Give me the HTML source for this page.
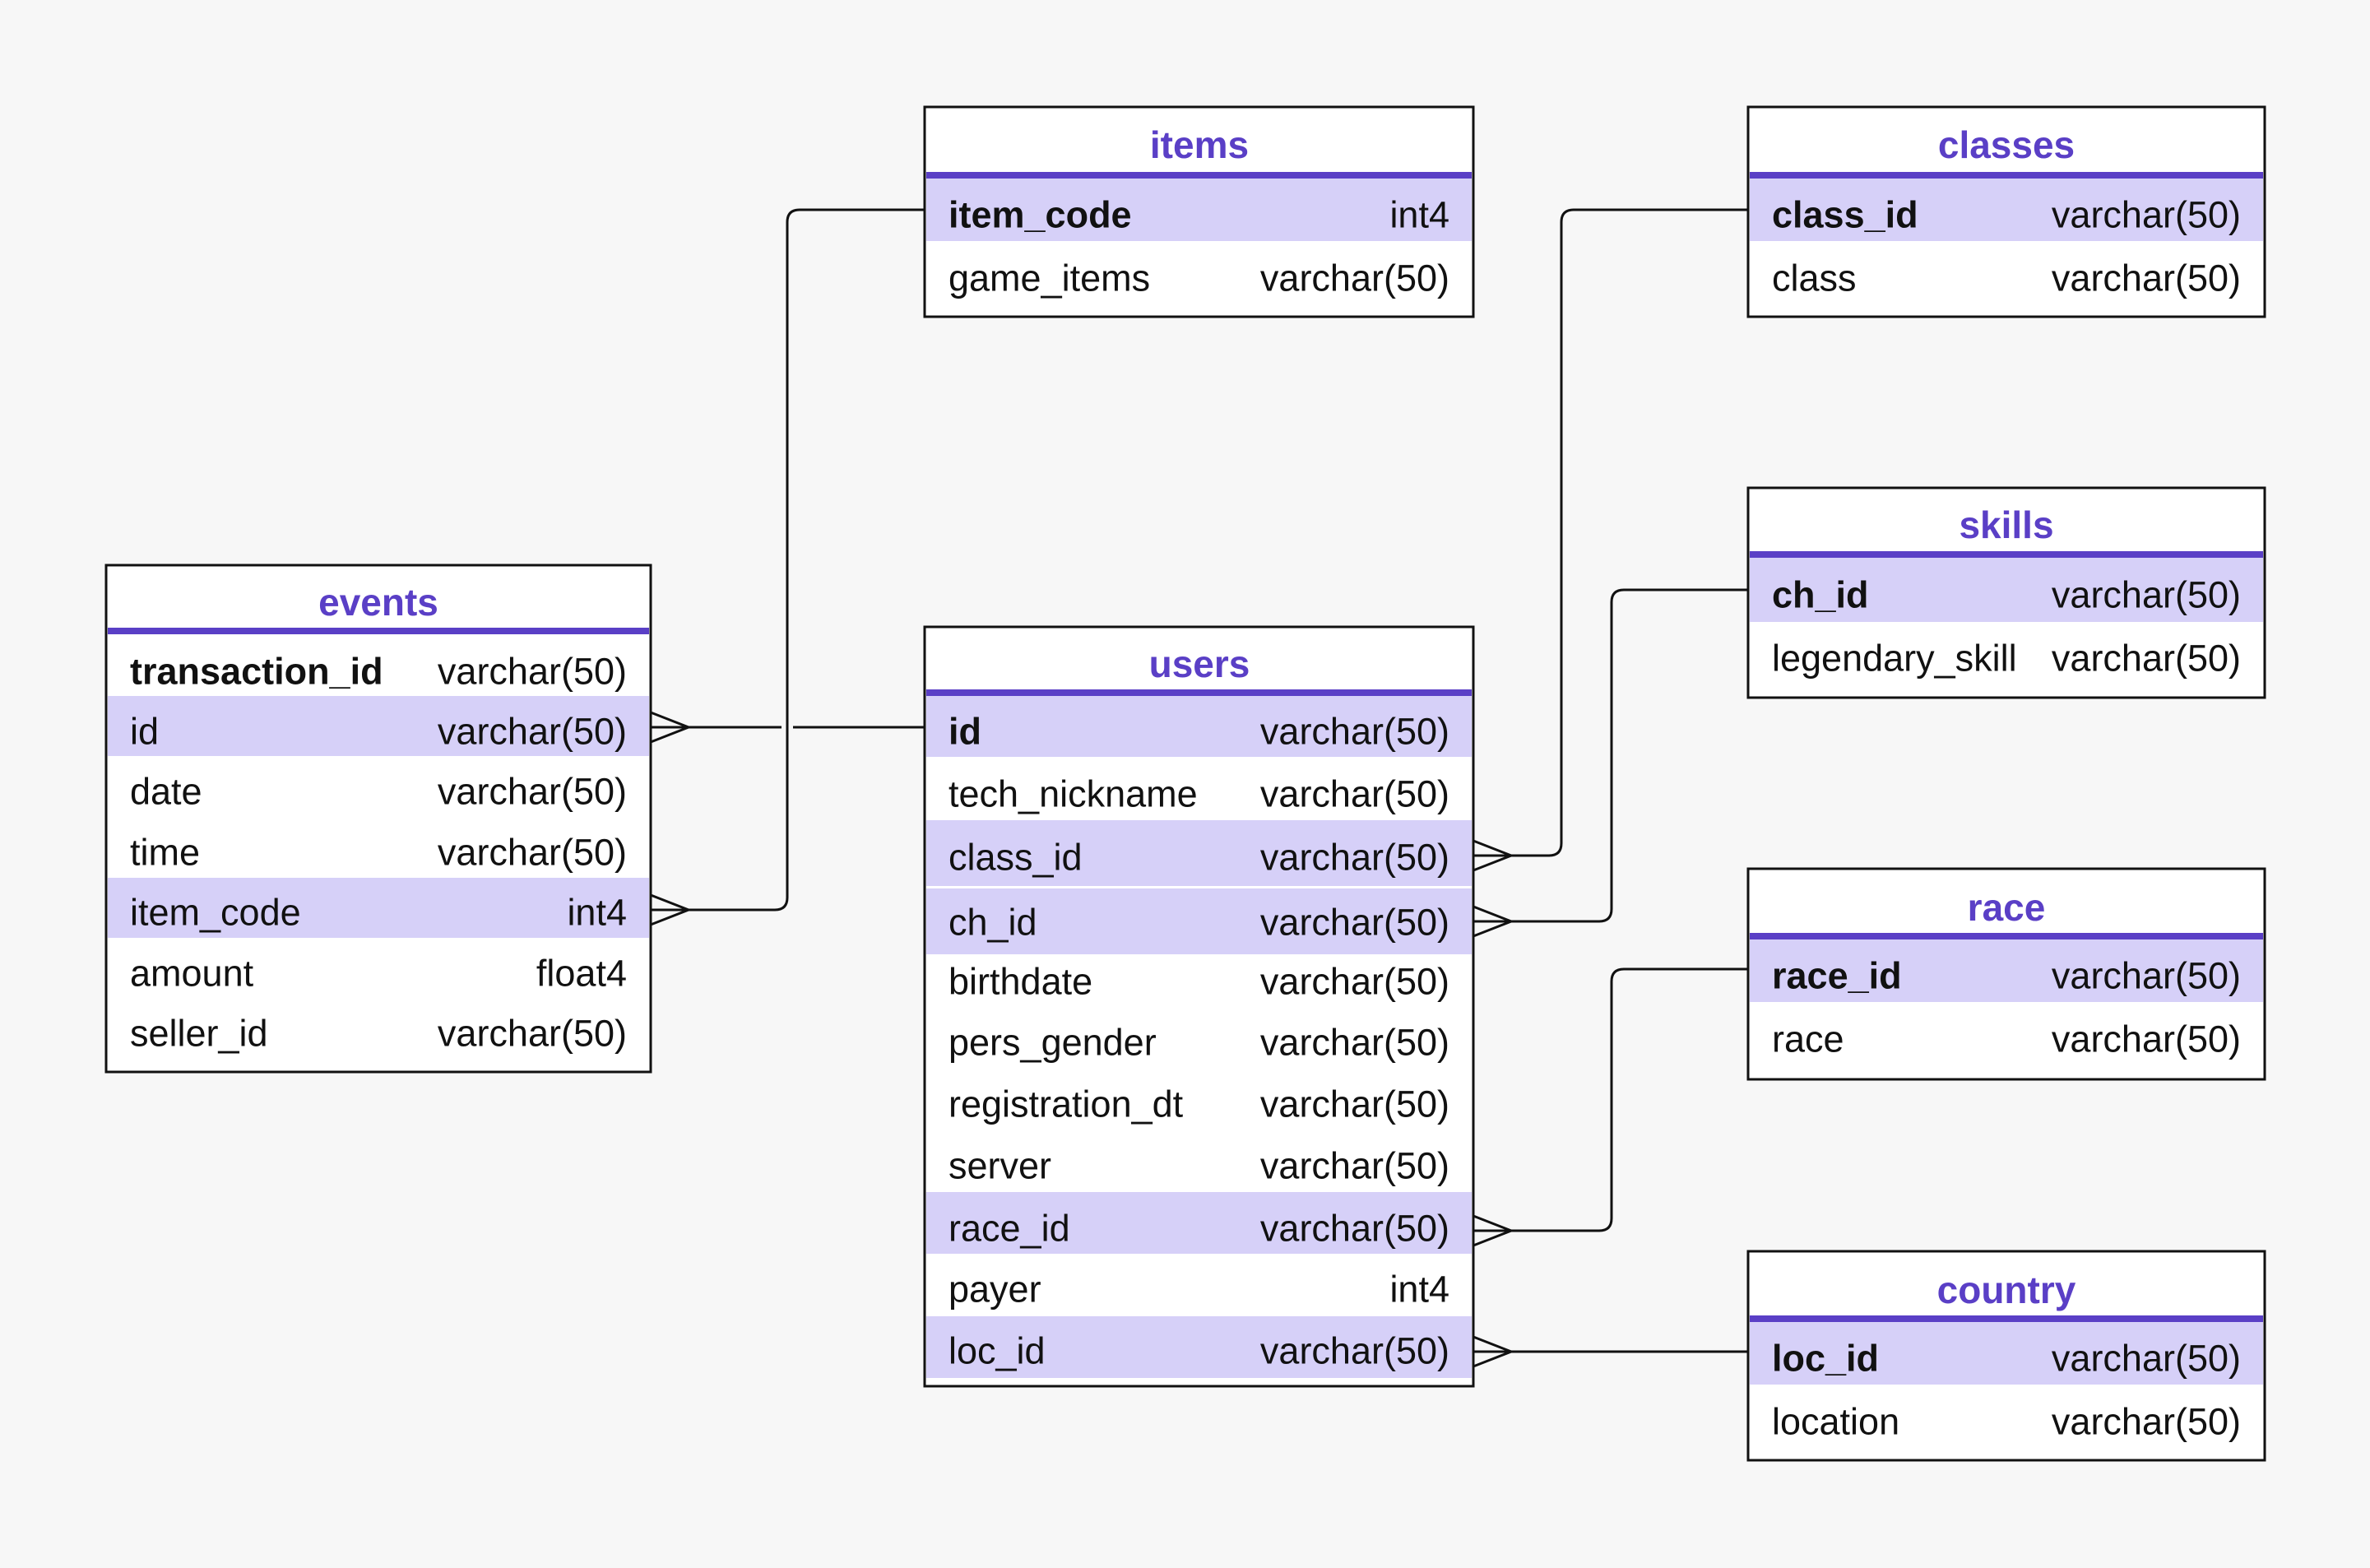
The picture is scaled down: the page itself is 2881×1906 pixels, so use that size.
<!DOCTYPE html>
<html><head><meta charset="utf-8"><style>
html,body{margin:0;padding:0;background:#f7f7f7;}
svg{display:block;}
text{font-family:"Liberation Sans",sans-serif;font-size:45px;fill:#111;dominant-baseline:central;transform:translateY(4px);}
.t{font-weight:bold;fill:#5a3fc6;font-size:46px;text-anchor:middle;}
.b{font-weight:bold;}
.r{text-anchor:end;}
</style></head><body>
<svg width="2881" height="1906" viewBox="0 0 2881 1906" xmlns="http://www.w3.org/2000/svg">
<rect width="2881" height="1906" fill="#f7f7f7"/>
<g fill="none" stroke="#111" stroke-width="3">
<path d="M1124 255 H972 Q957 255 957 270 V1091 Q957 1106 942 1106 H791"/>
<path d="M791 1088 L837 1106 L791 1124"/>
<path d="M791 884 H950 M964 884 H1124"/>
<path d="M791 866 L837 884 L791 902"/>
<path d="M1791 1040 H1883 Q1898 1040 1898 1025 V270 Q1898 255 1913 255 H2125"/>
<path d="M1791 1022 L1837 1040 L1791 1058"/>
<path d="M1791 1120 H1944 Q1959 1120 1959 1105 V732 Q1959 717 1974 717 H2125"/>
<path d="M1791 1102 L1837 1120 L1791 1138"/>
<path d="M1791 1496 H1944 Q1959 1496 1959 1481 V1193 Q1959 1178 1974 1178 H2124"/>
<path d="M1791 1478 L1837 1496 L1791 1514"/>
<path d="M1791 1643 H2124"/>
<path d="M1791 1625 L1837 1643 L1791 1661"/>
</g>

<!-- events -->
<rect x="129" y="687" width="662" height="616" fill="#fff" stroke="#111" stroke-width="3"/>
<rect x="131" y="763" width="658" height="8" fill="#5a3fc6"/>
<rect x="131" y="846" width="658" height="73" fill="#d6d0f8"/>
<rect x="131" y="1067" width="658" height="73" fill="#d6d0f8"/>
<text class="t" x="460" y="728">events</text>
<text class="b" x="158" y="812">transaction_id</text><text class="r" x="762" y="812">varchar(50)</text>
<text x="158" y="885">id</text><text class="r" x="762" y="885">varchar(50)</text>
<text x="158" y="958">date</text><text class="r" x="762" y="958">varchar(50)</text>
<text x="158" y="1032">time</text><text class="r" x="762" y="1032">varchar(50)</text>
<text x="158" y="1105">item_code</text><text class="r" x="762" y="1105">int4</text>
<text x="158" y="1179">amount</text><text class="r" x="762" y="1179">float4</text>
<text x="158" y="1252">seller_id</text><text class="r" x="762" y="1252">varchar(50)</text>

<!-- items -->
<rect x="1124" y="130" width="667" height="255" fill="#fff" stroke="#111" stroke-width="3"/>
<rect x="1126" y="209" width="663" height="8" fill="#5a3fc6"/>
<rect x="1126" y="217" width="663" height="76" fill="#d6d0f8"/>
<text class="t" x="1458" y="172">items</text>
<text class="b" x="1153" y="257">item_code</text><text class="r" x="1762" y="257">int4</text>
<text x="1153" y="334">game_items</text><text class="r" x="1762" y="334">varchar(50)</text>

<!-- classes -->
<rect x="2125" y="130" width="628" height="255" fill="#fff" stroke="#111" stroke-width="3"/>
<rect x="2127" y="209" width="624" height="8" fill="#5a3fc6"/>
<rect x="2127" y="217" width="624" height="76" fill="#d6d0f8"/>
<text class="t" x="2439" y="172">classes</text>
<text class="b" x="2154" y="257">class_id</text><text class="r" x="2724" y="257">varchar(50)</text>
<text x="2154" y="334">class</text><text class="r" x="2724" y="334">varchar(50)</text>

<!-- skills -->
<rect x="2125" y="593" width="628" height="255" fill="#fff" stroke="#111" stroke-width="3"/>
<rect x="2127" y="670" width="624" height="8" fill="#5a3fc6"/>
<rect x="2127" y="678" width="624" height="78" fill="#d6d0f8"/>
<text class="t" x="2439" y="634">skills</text>
<text class="b" x="2154" y="719">ch_id</text><text class="r" x="2724" y="719">varchar(50)</text>
<text x="2154" y="796">legendary_skill</text><text class="r" x="2724" y="796">varchar(50)</text>

<!-- race -->
<rect x="2125" y="1056" width="628" height="256" fill="#fff" stroke="#111" stroke-width="3"/>
<rect x="2127" y="1134" width="624" height="8" fill="#5a3fc6"/>
<rect x="2127" y="1142" width="624" height="76" fill="#d6d0f8"/>
<text class="t" x="2439" y="1099">race</text>
<text class="b" x="2154" y="1182">race_id</text><text class="r" x="2724" y="1182">varchar(50)</text>
<text x="2154" y="1259">race</text><text class="r" x="2724" y="1259">varchar(50)</text>

<!-- country -->
<rect x="2125" y="1521" width="628" height="254" fill="#fff" stroke="#111" stroke-width="3"/>
<rect x="2127" y="1599" width="624" height="8" fill="#5a3fc6"/>
<rect x="2127" y="1607" width="624" height="76" fill="#d6d0f8"/>
<text class="t" x="2439" y="1564">country</text>
<text class="b" x="2154" y="1647">loc_id</text><text class="r" x="2724" y="1647">varchar(50)</text>
<text x="2154" y="1724">location</text><text class="r" x="2724" y="1724">varchar(50)</text>

<!-- users -->
<rect x="1124" y="762" width="667" height="923" fill="#fff" stroke="#111" stroke-width="3"/>
<rect x="1126" y="838" width="663" height="8" fill="#5a3fc6"/>
<rect x="1126" y="846" width="663" height="74" fill="#d6d0f8"/>
<rect x="1126" y="997" width="663" height="80" fill="#d6d0f8"/>
<rect x="1126" y="1080" width="663" height="80" fill="#d6d0f8"/>
<rect x="1126" y="1449" width="663" height="75" fill="#d6d0f8"/>
<rect x="1126" y="1600" width="663" height="75" fill="#d6d0f8"/>
<text class="t" x="1458" y="803">users</text>
<text class="b" x="1153" y="885">id</text><text class="r" x="1762" y="885">varchar(50)</text>
<text x="1153" y="961">tech_nickname</text><text class="r" x="1762" y="961">varchar(50)</text>
<text x="1153" y="1038">class_id</text><text class="r" x="1762" y="1038">varchar(50)</text>
<text x="1153" y="1117">ch_id</text><text class="r" x="1762" y="1117">varchar(50)</text>
<text x="1153" y="1189">birthdate</text><text class="r" x="1762" y="1189">varchar(50)</text>
<text x="1153" y="1263">pers_gender</text><text class="r" x="1762" y="1263">varchar(50)</text>
<text x="1153" y="1338">registration_dt</text><text class="r" x="1762" y="1338">varchar(50)</text>
<text x="1153" y="1413">server</text><text class="r" x="1762" y="1413">varchar(50)</text>
<text x="1153" y="1489">race_id</text><text class="r" x="1762" y="1489">varchar(50)</text>
<text x="1153" y="1563">payer</text><text class="r" x="1762" y="1563">int4</text>
<text x="1153" y="1638">loc_id</text><text class="r" x="1762" y="1638">varchar(50)</text>
</svg>
</body></html>
